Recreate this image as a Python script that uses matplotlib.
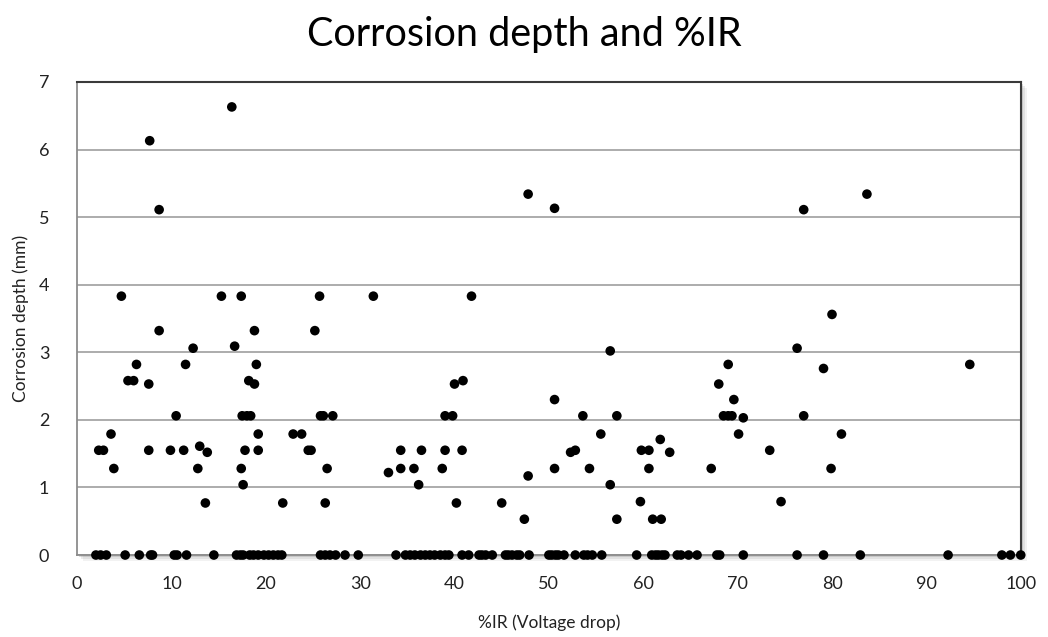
import matplotlib
matplotlib.use('Agg')
import matplotlib.pyplot as plt
from matplotlib.patches import Rectangle

# %IR readings and measured corrosion depth (mm)
ir_nonzero = [16.4, 7.7, 8.7, 4.7, 15.3, 17.4, 25.7, 31.4, 41.8, 47.8, 50.6, 83.7, 77.0,
              8.7, 18.8, 25.2, 80.0, 12.3, 16.7, 56.5, 76.3,
              6.3, 11.5, 19.0, 69.0, 94.6, 79.1,
              5.4, 6.0, 7.6, 18.2, 18.8, 40.0, 40.9, 68.0, 50.6, 69.6,
              10.5, 17.5, 18.0, 18.4, 25.8, 26.1, 27.1, 39.0, 39.8, 53.6, 57.2,
              68.5, 69.0, 69.4, 70.6, 77.0,
              3.6, 19.2, 22.9, 23.8, 55.5, 61.8, 70.1, 81.0,
              2.3, 2.8, 7.6, 9.9, 11.3, 13.0, 13.8, 17.8, 19.2, 24.5, 24.8, 34.3, 36.5,
              39.0, 40.8, 52.3, 52.8, 59.8, 60.6, 62.8, 73.4,
              3.9, 12.8, 17.4, 26.5, 33.0, 34.3, 35.7, 38.7, 47.8, 50.6, 54.3, 60.6, 67.2,
              79.9, 17.6, 36.2, 56.5,
              13.6, 21.8, 26.3, 40.2, 45.0, 59.7, 74.6,
              47.4, 57.2, 61.0, 61.9]
depth_nonzero = [6.63, 6.13, 5.11, 3.83, 3.83, 3.83, 3.83, 3.83, 3.83, 5.34, 5.13, 5.34, 5.11,
                 3.32, 3.32, 3.32, 3.56, 3.06, 3.09, 3.02, 3.06,
                 2.82, 2.82, 2.82, 2.82, 2.82, 2.76,
                 2.58, 2.58, 2.53, 2.58, 2.53, 2.53, 2.58, 2.53, 2.30, 2.30,
                 2.06, 2.06, 2.06, 2.06, 2.06, 2.06, 2.06, 2.06, 2.06, 2.06, 2.06,
                 2.06, 2.06, 2.06, 2.03, 2.06,
                 1.79, 1.79, 1.79, 1.79, 1.79, 1.71, 1.79, 1.79,
                 1.55, 1.55, 1.55, 1.55, 1.55, 1.61, 1.52, 1.55, 1.55, 1.55, 1.55, 1.55, 1.55,
                 1.55, 1.55, 1.52, 1.55, 1.55, 1.55, 1.52, 1.55,
                 1.28, 1.28, 1.28, 1.28, 1.22, 1.28, 1.28, 1.28, 1.17, 1.28, 1.28, 1.28, 1.28,
                 1.28, 1.04, 1.04, 1.04,
                 0.77, 0.77, 0.77, 0.77, 0.77, 0.79, 0.79,
                 0.53, 0.53, 0.53, 0.53]

# readings where no corrosion was found
ir_zero = [2.0, 2.5, 3.1, 5.1, 6.6, 7.8, 8.0, 10.3, 10.6, 11.6, 14.5,
           16.9, 17.3, 17.6, 18.3, 18.7, 19.2, 19.8, 20.3, 20.8, 21.3, 21.7,
           25.8, 26.3, 26.8, 27.4, 28.4, 29.8, 33.8,
           34.8, 35.3, 35.8, 36.4, 36.9, 37.4, 37.9, 38.5, 39.0, 39.4,
           40.8, 41.5, 42.6, 42.9, 43.3, 44.0, 45.4, 45.7, 46.1, 46.6, 46.9, 47.9,
           50.0, 50.3, 50.7, 51.0, 51.6, 52.8, 53.7, 54.1, 54.6, 55.6, 59.3,
           60.9, 61.3, 61.6, 62.0, 62.3, 63.6, 64.0, 64.8, 65.7, 67.8, 68.1, 70.6,
           76.3, 79.1, 83.0, 92.3, 98.0, 98.9, 100.0]
depth_zero = [0.0] * len(ir_zero)

x_ticks = list(range(0, 101, 10))
y_ticks = list(range(0, 8))

plt.rcParams['font.family'] = ['Lato', 'DejaVu Sans']

fig = plt.figure(figsize=(10.48, 6.37), dpi=100)
ax = fig.add_axes([0.0735, 0.1287, 0.9005, 0.7427])

# soft drop shadow behind the plot area
for off, alpha in [(0.006, 0.10), (0.004, 0.15), (0.002, 0.25)]:
    fig.patches.append(Rectangle((0.0735 + off, 0.1287 - off * 1.6), 0.9005, 0.7427,
                                 transform=fig.transFigure, facecolor='#808080',
                                 alpha=alpha, edgecolor='none', zorder=0))
ax.set_zorder(1)
ax.set_facecolor('white')

ax.scatter(ir_nonzero + ir_zero, depth_nonzero + depth_zero, s=48, color='black',
           edgecolors='none', zorder=3, clip_on=False)

ax.set_xlim(0, 100)
ax.set_ylim(0, 7)
ax.set_xticks(x_ticks)
ax.set_yticks(y_ticks)
ax.tick_params(length=0, labelsize=13, colors='#222222')
ax.tick_params(axis='x', pad=15)
ax.tick_params(axis='y', pad=20)
ax.grid(True, axis='y', color='#a6a6a6', linewidth=1.3)
ax.set_axisbelow(True)
for side in ['left', 'bottom']:
    ax.spines[side].set_color('#8c8c8c')
    ax.spines[side].set_linewidth(1.3)
for side in ['top', 'right']:
    ax.spines[side].set_color('#3a3a3a')
    ax.spines[side].set_linewidth(1.5)

ax.set_xlabel('%IR (Voltage drop)', fontsize=12.5, color='#222222', labelpad=16)
ax.set_ylabel('Corrosion depth (mm)', fontsize=12.5, color='#222222', labelpad=7)
fig.suptitle('Corrosion depth and %IR', fontsize=28.5, y=0.975)

fig.savefig('out.png', dpi=100)
plt.close(fig)
